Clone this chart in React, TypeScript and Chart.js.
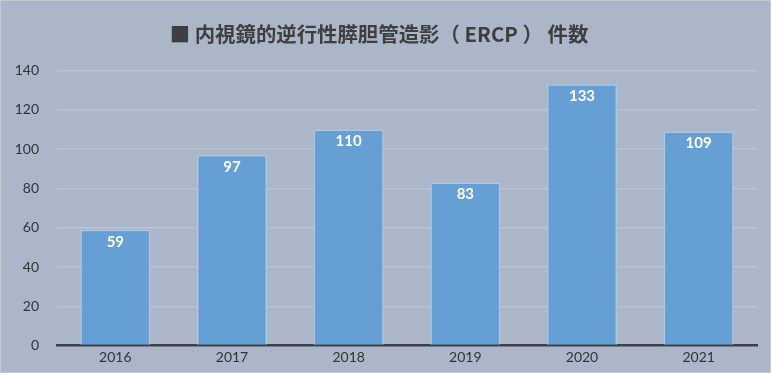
import React, { useEffect, useRef } from "react";
import { Chart, registerables } from "chart.js";

Chart.register(...registerables);

const TITLE = "■ 内視鏡的逆行性膵胆管造影（ ERCP ） 件数";
const years = ["2016", "2017", "2018", "2019", "2020", "2021"];
const counts = [59, 97, 110, 83, 133, 109];
const yTicks = [0, 20, 40, 60, 80, 100, 120, 140];

const labelPlugin = {
  id: "barLabels",
  afterDatasetsDraw(chart: any) {
    const ctx = chart.ctx;
    const meta = chart.getDatasetMeta(0);
    ctx.save();
    ctx.fillStyle = "#ffffff";
    ctx.font = "bold 15px Lato";
    ctx.textAlign = "center";
    ctx.textBaseline = "middle";
    meta.data.forEach((bar: any, i: number) => {
      ctx.fillText(String(counts[i]), bar.x, bar.y + 12);
    });
    ctx.restore();
  },
};

export default function App() {
  const ref = useRef<HTMLCanvasElement | null>(null);
  useEffect(() => {
    if (!ref.current) return;
    const chart = new Chart(ref.current, {
      type: "bar",
      data: {
        labels: years,
        datasets: [
          {
            data: counts,
            backgroundColor: "#659fd3",
            borderColor: "#a9c8e8",
            borderWidth: 1.5,
            categoryPercentage: 0.6,
            barPercentage: 1,
          },
        ],
      },
      options: {
        animation: false,
        responsive: false,
        layout: { padding: { left: 0, right: 13, top: 0, bottom: 3 } },
        plugins: {
          legend: { display: false },
          tooltip: { enabled: false },
          title: {
            display: true,
            text: TITLE,
            color: "#3f3f3f",
            font: { family: "'Noto Sans CJK JP'", size: 20.4, weight: "bold" },
            padding: { top: 21, bottom: 24 },
          },
        },
        scales: {
          x: {
            grid: { display: false, drawTicks: false },
            border: { display: true, color: "#3d3f44", width: 2.5 },
            ticks: { color: "#333333", font: { family: "Lato", size: 14 }, padding: 3 },
          },
          y: {
            min: 0,
            max: 140,
            afterBuildTicks: (axis: any) => {
              axis.ticks = yTicks.map((v) => ({ value: v }));
            },
            afterFit: (axis: any) => {
              axis.width = 56;
            },
            grid: { color: "#bac4d4", lineWidth: 1.5, drawTicks: false },
            border: { display: false },
            ticks: { color: "#333333", font: { family: "Lato", size: 14 }, padding: 18 },
          },
        },
      },
      plugins: [labelPlugin],
    });
    return () => chart.destroy();
  }, []);
  return (
    <div
      style={{
        position: "fixed",
        left: 0,
        top: 0,
        width: 771,
        height: 373,
        background: "#abb6c9",
        boxSizing: "border-box",
        border: "1px solid #c3cad6",
      }}
    >
      <canvas ref={ref} width={769} height={371} style={{ display: "block" }} />
    </div>
  );
}
